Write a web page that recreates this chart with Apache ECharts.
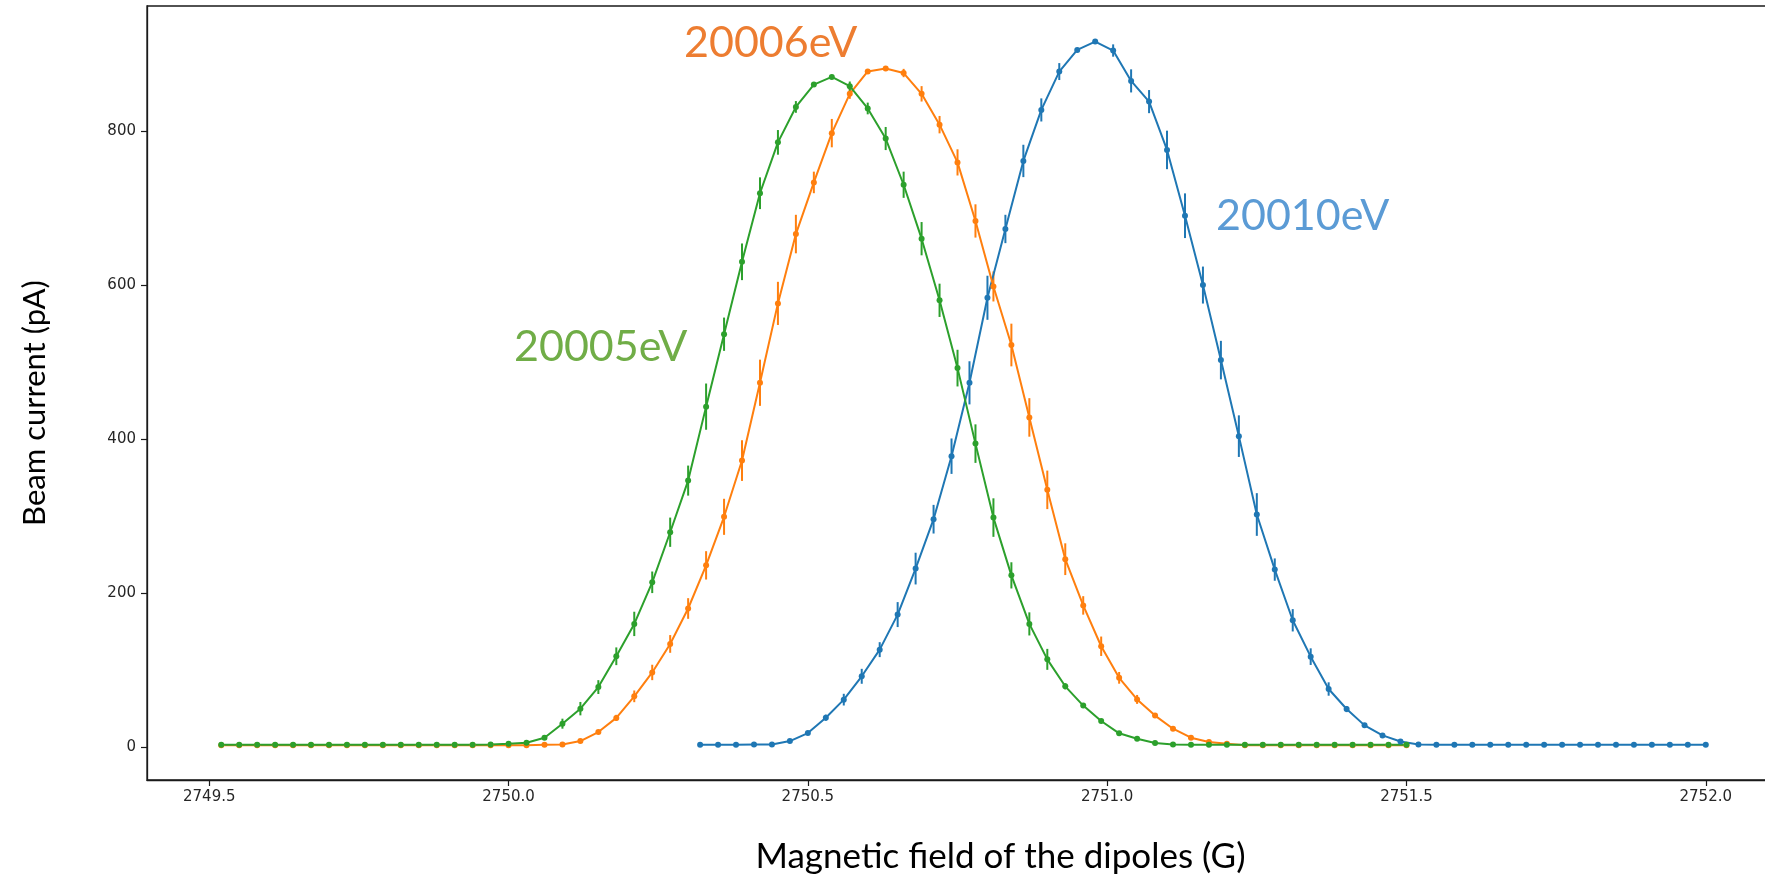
<!DOCTYPE html>
<html>
<head>
<meta charset="utf-8">
<script src="https://cdn.jsdelivr.net/npm/echarts@6/dist/echarts.min.js"></script>
<style>
html,body{margin:0;padding:0;background:#fff;}
#chart{width:1765px;height:875px;}
</style>
</head>
<body>
<div id="chart"></div>
<script>
// ---- data ----
const xGO = [2749.52,2749.55,2749.58,2749.61,2749.64,2749.67,2749.70,2749.73,2749.76,2749.79,2749.82,2749.85,2749.88,2749.91,2749.94,2749.97,2750.00,2750.03,2750.06,2750.09,2750.12,2750.15,2750.18,2750.21,2750.24,2750.27,2750.30,2750.33,2750.36,2750.39,2750.42,2750.45,2750.48,2750.51,2750.54,2750.57,2750.60,2750.63,2750.66,2750.69,2750.72,2750.75,2750.78,2750.81,2750.84,2750.87,2750.90,2750.93,2750.96,2750.99,2751.02,2751.05,2751.08,2751.11,2751.14,2751.17,2751.20,2751.23,2751.26,2751.29,2751.32,2751.35,2751.38,2751.41,2751.44,2751.47,2751.50];

const xBlue = [2750.32,2750.35,2750.38,2750.41,2750.44,2750.47,2750.50,2750.53,2750.56,2750.59,2750.62,2750.65,2750.68,2750.71,2750.74,2750.77,2750.80,2750.83,2750.86,2750.89,2750.92,2750.95,2750.98,2751.01,2751.04,2751.07,2751.10,2751.13,2751.16,2751.19,2751.22,2751.25,2751.28,2751.31,2751.34,2751.37,2751.40,2751.43,2751.46,2751.49,2751.52,2751.55,2751.58,2751.61,2751.64,2751.67,2751.70,2751.73,2751.76,2751.79,2751.82,2751.85,2751.88,2751.91,2751.94,2751.97,2752.00];

const green20005 = [3,3,3,3,3,3,3,3,3,3,3,3,3,3,3,
  3.6,4.5,5.8,12.3,30.5,50,78,118,160,214,279,346,442,536,630,719,785,831,860,870,858,829,790,730,660,580,492,394,298,223,160,114,79,54,34,18,11,5.3,3.6,
  3,3,3,3,3,3,3,3,3,3,3,3,3];
const greenErr = [0.5,0.5,0.5,0.5,0.5,0.5,0.5,0.5,0.5,0.5,0.5,0.5,0.5,0.5,0.5,
  0.5,0.5,0.5,3,6.5,8.7,9,11.5,15.8,14,19,19.5,30,21.6,23.8,20.6,16,7.6,3,2,6,7.6,15,17,21.6,21.6,23.8,25,25,17,15,13.6,4,3,2,1.5,1,0.5,0.5,
  0.5,0.5,0.5,0.5,0.5,0.5,0.5,0.5,0.5,0.5,0.5,0.5,0.5];

const orange20006 = [2.5,2.5,2.5,2.5,2.5,2.5,2.5,2.5,2.5,2.5,2.5,2.5,2.5,2.5,2.5,2.5,2.5,2.5,
  3.2,3.6,7.9,19.6,38,66,97,134,180,236,299,372,473,576,666,733,797,848,877,881,875,848,808,759,683,598,522,428,334,244,184,131,90,62,41,24,12.3,6.6,4.5,
  2.5,2.5,2.5,2.5,2.5,2.5,2.5,2.5,2.5,2.5];
const orangeErr = [0.5,0.5,0.5,0.5,0.5,0.5,0.5,0.5,0.5,0.5,0.5,0.5,0.5,0.5,0.5,0.5,0.5,0.5,
  0.5,0.5,1,2,4,7.6,10,11.5,13.4,18.4,23.4,26.4,30,28,25,14,18.4,6.5,3,2,5.4,10,11.3,17,21.6,19.5,27.7,25,25,20.6,12,12.6,7.6,5.8,3,2,1,0.5,0.5,
  0.5,0.5,0.5,0.5,0.5,0.5,0.5,0.5,0.5,0.5];

const blue20010 = [3,3,3,3.6,3.6,7.9,18.3,38.3,61.7,92,126.6,172.1,231.8,295.9,377.7,472.9,583.3,672.6,760.9,827.1,876.9,905,915.8,904.2,864.8,837.9,775.2,689.8,599.8,502.4,403.7,302,230.5,164.7,117.5,75.5,49.5,28.3,15.3,7.3,3.6,
  3,3,3,3,3,3,3,3,3,3,3,3,3,3,3,3];
const blueErr = [0.5,0.5,0.5,0.5,0.5,1,2,4,7.6,9.7,9.7,16.2,20.6,18.6,23,28,28.6,18.4,21,15,11,2,1,8,15,15,25,29,24,25,27,27.7,14.5,14.5,10.8,8.7,4,2,2,0.5,0.5,
  0.5,0.5,0.5,0.5,0.5,0.5,0.5,0.5,0.5,0.5,0.5,0.5,0.5,0.5,0.5,0.5];

const xTicks = [2749.5, 2750.0, 2750.5, 2751.0, 2751.5, 2752.0];
const yTicks = [0, 200, 400, 600, 800];

const labels = [
  {text: '20006eV', color: '#ED7D31'},
  {text: '20005eV', color: '#70AD47'},
  {text: '20010eV', color: '#5B9BD5'}
];
// ---------------------------------------

const C_BLUE = '#1f77b4', C_ORANGE = '#ff7f0e', C_GREEN = '#2ca02c';

function pairs(xs, ys){ return xs.map((x,i)=>[x, ys[i]]); }
function errs(xs, ys, es){ return xs.map((x,i)=>[x, ys[i]-es[i], ys[i]+es[i]]); }

function errSeries(data, color){
  return {
    type: 'custom',
    data: data,
    encode: {x: 0, y: [1, 2]},
    clip: true,
    silent: true,
    renderItem: function(params, api){
      const a = api.coord([api.value(0), api.value(1)]);
      const b = api.coord([api.value(0), api.value(2)]);
      return {type: 'line', shape: {x1: a[0], y1: a[1], x2: b[0], y2: b[1]},
              style: {stroke: color, lineWidth: 2}};
    }
  };
}
function lineSeries(data, color){
  return {
    type: 'line', data: data, symbol: 'circle', symbolSize: 6, showSymbol: true,
    showAllSymbol: true,
    lineStyle: {color: color, width: 2}, itemStyle: {color: color},
    emphasis: {disabled: true}, clip: true
  };
}

const chart = echarts.init(document.getElementById('chart'), null, {renderer: 'canvas'});
const tickFont = {fontFamily: 'DejaVu Sans', fontSize: 15, color: '#262626'};

chart.setOption({
  animation: false,
  backgroundColor: '#ffffff',
  grid: {left: 147, top: 6, right: -15, bottom: 95, show: true, borderColor: '#1a1a1a', borderWidth: 1.3,
         containLabel: false, outerBoundsMode: 'none'},
  xAxis: {
    type: 'value', min: 2749.396, max: 2752.124,
    name: 'Magnetic field of the dipoles (G)', nameLocation: 'middle', nameGap: 59,
    nameTextStyle: {fontFamily: 'Lato', fontSize: 35, color: '#000', padding: [0, 0, 0, 74]},
    axisLine: {show: true, onZero: false, lineStyle: {color: '#1a1a1a', width: 1.3}},
    axisTick: {show: true, inside: false, length: 6, customValues: xTicks, lineStyle: {color: '#1a1a1a', width: 1.2}},
    axisLabel: Object.assign({margin: 10, customValues: xTicks, formatter: v => v.toFixed(1)}, tickFont),
    splitLine: {show: false}
  },
  yAxis: {
    type: 'value', min: -42.6, max: 962,
    name: 'Beam current (pA)', nameLocation: 'middle', nameGap: 97, nameRotate: 90,
    nameTextStyle: {fontFamily: 'Lato', fontSize: 31, color: '#000', padding: [0, 20, 0, 0]},
    axisLine: {show: true, onZero: false, lineStyle: {color: '#1a1a1a', width: 1.3}},
    axisTick: {show: true, inside: false, length: 6, customValues: yTicks, lineStyle: {color: '#1a1a1a', width: 1.2}},
    axisLabel: Object.assign({margin: 11, customValues: yTicks}, tickFont),
    splitLine: {show: false}
  },
  graphic: [
    {type: 'text', left: 684, top: 22, style: {text: labels[0].text, fill: labels[0].color, font: '43px Lato'}},
    {type: 'text', left: 514, top: 326, style: {text: labels[1].text, fill: labels[1].color, font: '43px Lato'}},
    {type: 'text', left: 1216, top: 195, style: {text: labels[2].text, fill: labels[2].color, font: '43px Lato'}}
  ],
  series: [
    errSeries(errs(xBlue, blue20010, blueErr), C_BLUE),
    lineSeries(pairs(xBlue, blue20010), C_BLUE),
    errSeries(errs(xGO, orange20006, orangeErr), C_ORANGE),
    lineSeries(pairs(xGO, orange20006), C_ORANGE),
    errSeries(errs(xGO, green20005, greenErr), C_GREEN),
    lineSeries(pairs(xGO, green20005), C_GREEN)
  ]
});
</script>
</body>
</html>
